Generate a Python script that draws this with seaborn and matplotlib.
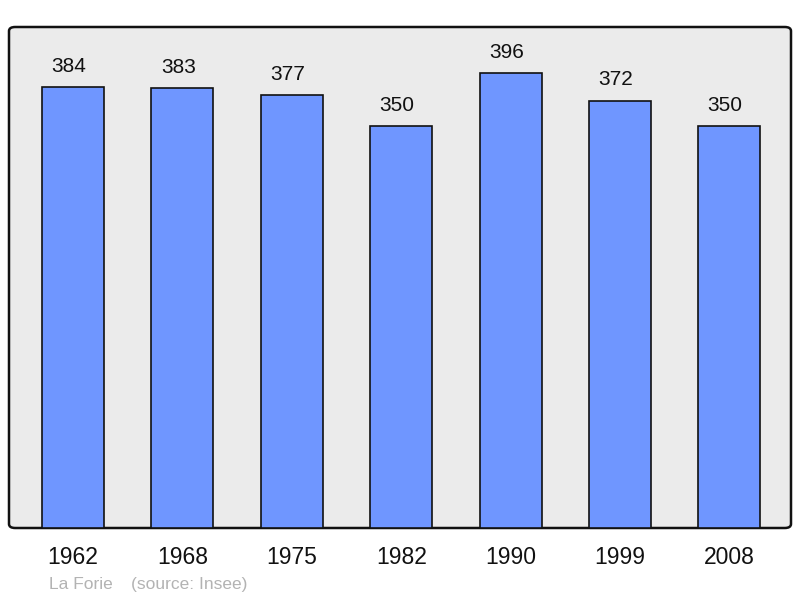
import matplotlib
matplotlib.use("Agg")
import matplotlib.pyplot as plt
import seaborn as sns
import pandas as pd
from matplotlib.patches import FancyBboxPatch

years = ["1962", "1968", "1975", "1982", "1990", "1999", "2008"]
population = [384, 383, 377, 350, 396, 372, 350]

sns.set_theme(style="white")
plt.rcParams['font.family'] = ['Liberation Sans', 'DejaVu Sans']

df = pd.DataFrame({"year": years, "pop": population})

fig = plt.figure(figsize=(8, 5.98), dpi=100)
ax = fig.add_axes([9/800, 70/598, 782/800, 501/598])
ax.patch.set_visible(False)

bg = FancyBboxPatch((0, 0), 1, 1, boxstyle="round,pad=0,rounding_size=0.008",
                    transform=ax.transAxes, facecolor="#ebebeb", edgecolor="#111111",
                    linewidth=1.8, zorder=0, clip_on=False)
ax.add_patch(bg)

sns.barplot(data=df, x="year", y="pop", ax=ax, color="#6f96ff", saturation=1,
            width=0.567, edgecolor="#111111", linewidth=1.2, zorder=2)

for i, v in enumerate(population):
    ax.annotate(str(v), (i, v), xytext=(-3, 14.8), textcoords="offset points",
                ha="center", va="center", fontsize=15, color="#111111")

ax.set_xlim(-0.585, 6.563)
ax.set_ylim(0, 436)
ax.set_yticks([])
ax.set_xlabel("")
ax.set_ylabel("")
for s in ax.spines.values():
    s.set_visible(False)
ax.tick_params(axis="x", length=0, pad=13, labelsize=16.5, labelcolor="#111111")

fig.text(49/800, 1 - 584.5/598, "La Forie", fontsize=12.5,
         color="#b3b3b3", ha="left", va="center")
fig.text(131/800, 1 - 584.5/598, "(source: Insee)", fontsize=12.5,
         color="#b3b3b3", ha="left", va="center")

fig.savefig("out.png", dpi=100)
